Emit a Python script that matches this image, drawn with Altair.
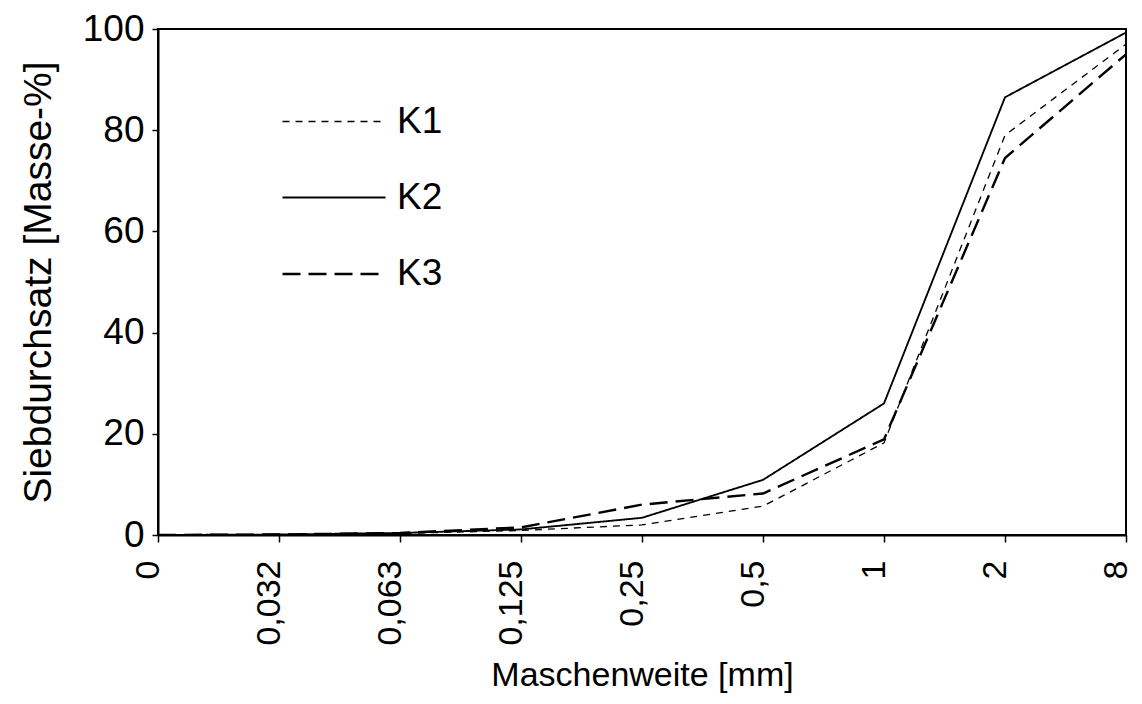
import altair as alt
import pandas as pd

sizes = ["0", "0,032", "0,063", "0,125", "0,25", "0,5", "1", "2", "8"]
k1 = [0, 0.1, 0.3, 0.9, 2.0, 5.7, 18.2, 79.0, 97.0]
k2 = [0, 0.1, 0.4, 1.1, 3.4, 10.9, 26.0, 86.5, 99.3]
k3 = [0, 0.1, 0.4, 1.5, 6.0, 8.2, 18.9, 74.5, 95.0]
series = ["K1", "K2", "K3"]

rows = []
for name, vals in zip(series, [k1, k2, k3]):
    for s, v in zip(sizes, vals):
        rows.append({"Maschenweite": s, "Siebdurchsatz": v, "Serie": name})
df = pd.DataFrame(rows)

FONT = "Liberation Sans"

chart = alt.Chart(df).mark_line(color="black", clip=True).encode(
    x=alt.X("Maschenweite:N", sort=sizes,
            scale=alt.Scale(type="point", padding=0),
            axis=alt.Axis(title="Maschenweite [mm]", labelAngle=270,
                          labelBaseline="alphabetic", labelAlign="right",
                          labelFontSize=34, titleFontSize=34,
                          tickSize=7, labelPadding=18, titlePadding=40,
                          titleBaseline="alphabetic",
                          domainColor="black", tickColor="black",
                          labelColor="black", titleColor="black",
                          domainWidth=2, tickWidth=1.5, grid=False,
                          titleFontWeight="normal")),
    y=alt.Y("Siebdurchsatz:Q",
            scale=alt.Scale(domain=[0, 100], nice=False),
            axis=alt.Axis(title="Siebdurchsatz [Masse-%]", values=[0, 20, 40, 60, 80, 100],
                          labelFontSize=37, titleFontSize=39,
                          tickSize=6, labelPadding=8, titlePadding=24,
                          domainColor="black", tickColor="black",
                          labelColor="black", titleColor="black",
                          domainWidth=2, tickWidth=1.5, grid=False,
                          titleFontWeight="normal")),
    strokeDash=alt.StrokeDash("Serie:N",
                              scale=alt.Scale(domain=series, range=[[7, 6], [1, 0], [18, 8]]),
                              legend=alt.Legend(title=None, orient="none", legendX=123, legendY=40,
                                                symbolType="stroke", symbolSize=10609,
                                                symbolStrokeColor="black",
                                                labelFontSize=37, labelFont=FONT, labelColor="black",
                                                labelOffset=10, rowPadding=5, padding=0)),
    strokeWidth=alt.StrokeWidth("Serie:N",
                                scale=alt.Scale(domain=series, range=[1.3, 2.4, 2.0]),
                                legend=None),
).properties(
    width=968, height=506,
    autosize=alt.AutoSizeParams(type="none"),
    padding={"left": 150, "top": 21, "right": 8, "bottom": 161},
).configure(font=FONT).configure_view(stroke="black", strokeWidth=2)

chart.save("out.html", embed_options={"renderer": "svg", "actions": False})
